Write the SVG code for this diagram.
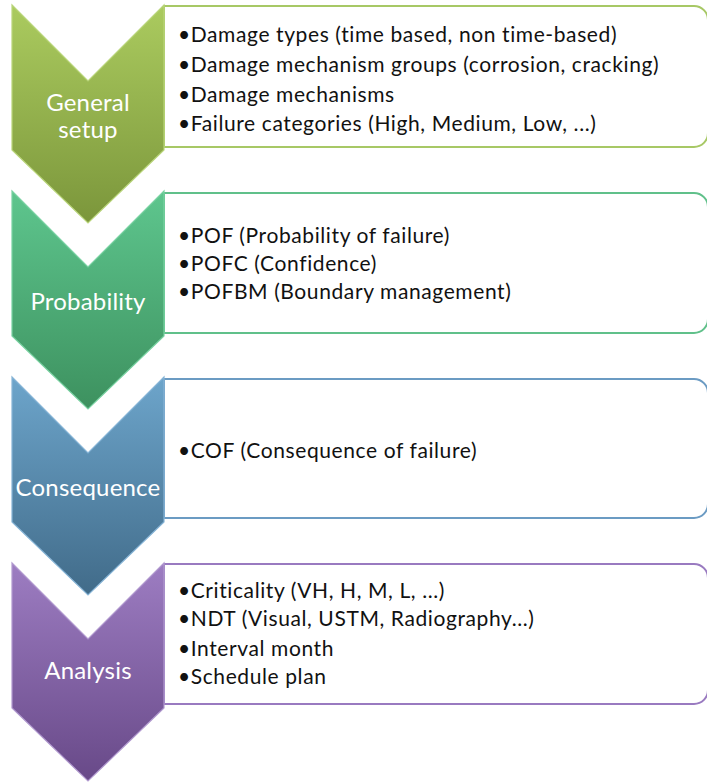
<svg xmlns="http://www.w3.org/2000/svg" width="707" height="782" viewBox="0 0 707 782">
<defs>
<linearGradient id="g1" x1="0" y1="0" x2="0" y2="1"><stop offset="0" stop-color="#abcb5f"/><stop offset="1" stop-color="#7b963b"/></linearGradient>
<linearGradient id="g2" x1="0" y1="0" x2="0" y2="1"><stop offset="0" stop-color="#5ec68e"/><stop offset="1" stop-color="#3d915f"/></linearGradient>
<linearGradient id="g3" x1="0" y1="0" x2="0" y2="1"><stop offset="0" stop-color="#6da5cb"/><stop offset="1" stop-color="#416b89"/></linearGradient>
<linearGradient id="g4" x1="0" y1="0" x2="0" y2="1"><stop offset="0" stop-color="#9d7dc2"/><stop offset="1" stop-color="#684988"/></linearGradient>
</defs>
<style>
.box{fill:#ffffff;stroke-width:2}
.chev{stroke-width:1.2}
.lbl{font-family:"Lato","Liberation Sans",sans-serif;font-size:24px;fill:#ffffff;text-anchor:middle;letter-spacing:0.2px}
.txt{font-family:"Lato","Liberation Sans",sans-serif;font-size:21px;fill:#111111;letter-spacing:0.6px}
</style>
<g id="stage1">
<path class="box" stroke="#a7c865" d="M164,6 H694 A14,14 0 0 1 708,20 V133 A14,14 0 0 1 694,147 H164 Z"/>
<path class="chev" fill="url(#g1)" stroke="#b9d57a" d="M12,5 L88,81 L164,5 V150 L88,223 L12,150 Z"/>
<text class="lbl" x="88" y="111">General</text>
<text class="lbl" x="88" y="138">setup</text>
<text class="txt" x="178" y="42">•Damage types (time based, non time-based)</text>
<text class="txt" x="178" y="72">•Damage mechanism groups (corrosion, cracking)</text>
<text class="txt" x="178" y="102">•Damage mechanisms</text>
<text class="txt" x="178" y="131">•Failure categories (High, Medium, Low, ...)</text>
</g>
<g id="stage2">
<path class="box" stroke="#60c08a" d="M164,193 H694 A14,14 0 0 1 708,207 V319 A14,14 0 0 1 694,333 H164 Z"/>
<path class="chev" fill="url(#g2)" stroke="#79d2a2" d="M12,191 L88,267 L164,191 V336 L88,409 L12,336 Z"/>
<text class="lbl" x="88" y="310">Probability</text>
<text class="txt" x="178" y="243">•POF (Probability of failure)</text>
<text class="txt" x="178" y="271">•POFC (Confidence)</text>
<text class="txt" x="178" y="299">•POFBM (Boundary management)</text>
</g>
<g id="stage3">
<path class="box" stroke="#6b9bc3" d="M164,379 H694 A14,14 0 0 1 708,393 V504 A14,14 0 0 1 694,518 H164 Z"/>
<path class="chev" fill="url(#g3)" stroke="#86b4d6" d="M12,377 L88,453 L164,377 V522 L88,595 L12,522 Z"/>
<text class="lbl" x="88" y="496">Consequence</text>
<text class="txt" x="178" y="458">•COF (Consequence of failure)</text>
</g>
<g id="stage4">
<path class="box" stroke="#997ac0" d="M164,564 H694 A14,14 0 0 1 708,578 V690 A14,14 0 0 1 694,704 H164 Z"/>
<path class="chev" fill="url(#g4)" stroke="#b199cf" d="M12,563 L88,639 L164,563 V708 L88,781 L12,708 Z"/>
<text class="lbl" x="88" y="679">Analysis</text>
<text class="txt" x="178" y="598">•Criticality (VH, H, M, L, ...)</text>
<text class="txt" x="178" y="626">•NDT (Visual, USTM, Radiography...)</text>
<text class="txt" x="178" y="656">•Interval month</text>
<text class="txt" x="178" y="684">•Schedule plan</text>
</g>
<g id="connectors"></g>
</svg>
